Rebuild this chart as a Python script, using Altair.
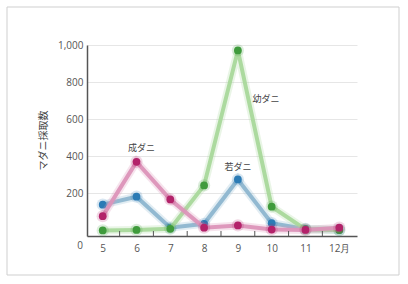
import altair as alt
import pandas as pd

months = [5, 6, 7, 8, 9, 10, 11, 12]
wakadani = [139, 182, 15, 36, 275, 39, 8, 3]      # 若ダニ (blue)
seidani = [77, 370, 167, 15, 27, 5, 3, 15]        # 成ダニ (pink)
youdani = [0, 3, 9, 243, 971, 128, 6, 2]          # 幼ダニ (green)
y_ticks = [200, 400, 600, 800, 1000]
mid_ticks = [5.5, 6.5, 7.5, 8.5, 9.5, 10.5, 11.5]

X_DOMAIN = [4.535, 12.525]
Y_DOMAIN = [-30, 1000]
JP = "Noto Sans CJK JP"
NUM = "Open Sans"

x_enc = alt.X("m:Q", scale=alt.Scale(domain=X_DOMAIN, nice=False, zero=False),
              axis=alt.Axis(values=months, labelExpr="datum.value == 12 ? '12月' : datum.value",
                            grid=False, ticks=False, domainColor="#555", domainWidth=1.5,
                            labelPadding=7, labelFont=NUM, labelFontSize=10, labelColor="#555",
                            title=None))
y_enc = alt.Y("v:Q", scale=alt.Scale(domain=Y_DOMAIN, nice=False, zero=False),
              axis=alt.Axis(values=y_ticks, labelExpr="format(datum.value, ',d')",
                            grid=True, gridColor="#e6e6e6",
                            ticks=False, domainColor="#555", domainWidth=1.5,
                            labelPadding=4, labelFont=NUM, labelFontSize=10, labelColor="#555",
                            title="マダニ採取数", titleFont=JP, titleFontSize=10,
                            titleFontWeight="normal", titleColor="#444",
                            titleX=-44, titleY=95, titleAngle=-90,
                            titleAlign="center", titleBaseline="middle"))


def series(vals, line_color, point_color):
    df = pd.DataFrame({"m": months, "v": vals})
    base = alt.Chart(df).encode(x=x_enc, y=y_enc)
    halo = base.mark_line(color=line_color, strokeWidth=8, opacity=0.25)
    line = base.mark_line(color=line_color, strokeWidth=4, opacity=0.95)
    phalo = base.mark_circle(color=point_color, size=150, opacity=0.18)
    pts = base.mark_circle(color=point_color, size=60, opacity=1)
    return [halo, line, phalo, pts]


frame = alt.Chart(pd.DataFrame({"a": [0]})).mark_rect(
    fillOpacity=0, stroke="#cfcfcf", strokeWidth=1
).encode(x=alt.value(-80), x2=alt.value(312), y=alt.value(-38), y2=alt.value(230))

ticks_df = pd.DataFrame({"m": mid_ticks, "v": [Y_DOMAIN[0]] * len(mid_ticks),
                         "v2": [-3] * len(mid_ticks)})
tick_rules = alt.Chart(ticks_df).mark_rule(color="#555", strokeWidth=1).encode(
    x=x_enc, y=y_enc, y2="v2:Q")

zero_label = alt.Chart(pd.DataFrame({"m": [X_DOMAIN[0]], "v": [Y_DOMAIN[0]], "t": ["0"]})).mark_text(
    font=NUM, fontSize=10, color="#555", dx=-7, dy=10, baseline="middle", align="center"
).encode(x=x_enc, y=y_enc, text="t:N")


def label(month_idx, vals, text, dx, dy):
    df = pd.DataFrame({"m": [months[month_idx]], "v": [vals[month_idx]], "t": [text]})
    return alt.Chart(df).mark_text(font=JP, fontSize=9, color="#444", dx=dx, dy=dy,
                                   baseline="middle", align="center").encode(
        x=x_enc, y=y_enc, text="t:N")


layers = [frame]
layers += series(wakadani, "#8db6cf", "#2b7bb5")
layers += series(youdani, "#a9d89b", "#3f9b3c")
layers += series(seidani, "#dc93b9", "#b3226a")
layers += [tick_rules, zero_label,
           label(1, seidani, "成ダニ", 5, -14),
           label(4, wakadani, "若ダニ", 0, -12),
           label(4, youdani, "幼ダニ", 28, 49)]

chart = alt.layer(*layers).properties(
    width=270, height=191,
    autosize=alt.AutoSizeParams(type="none"),
    padding={"left": 87, "top": 45, "right": 51, "bottom": 48},
    background="white",
).configure_view(stroke=None)

chart.save("out.html", embed_options={"renderer": "svg", "actions": False})
